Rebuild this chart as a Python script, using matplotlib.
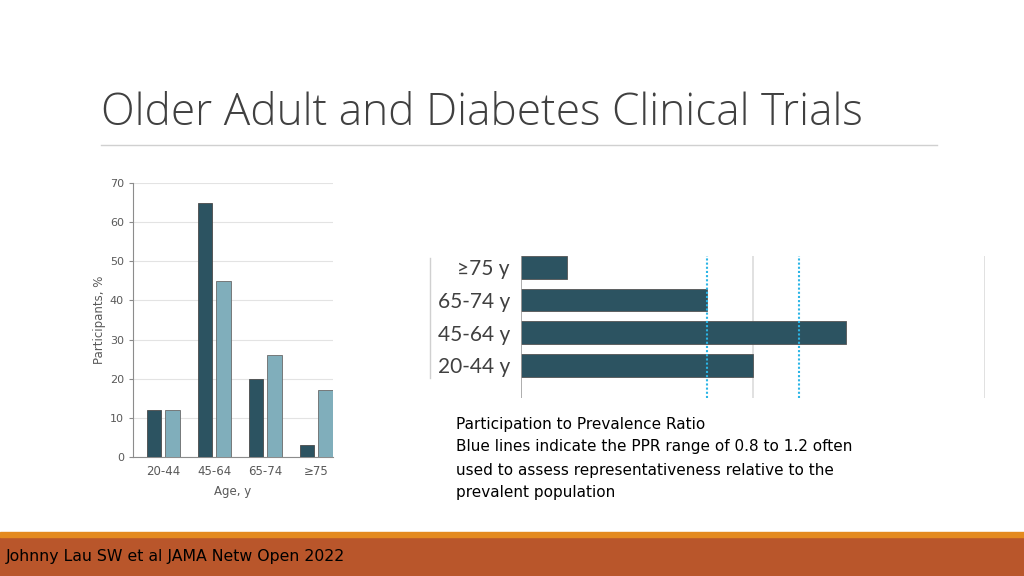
import numpy as np
import matplotlib.pyplot as plt
from matplotlib.lines import Line2D
from matplotlib.patches import Rectangle

# left chart: participants vs prevalence, %
age_groups = ['20-44', '45-64', '65-74', '≥75']
participants = [12, 65, 20, 3]
prevalent = [12, 45, 26, 17]

# right chart: participation to prevalence ratio
ppr_labels = ['20-44 y', '45-64 y', '65-74 y', '≥75 y']
ppr_values = [1.0, 1.4, 0.8, 0.2]
ppr_range = [0.8, 1.2]

dark = '#2c5361'
light = '#80aebb'
grey_text = '#595959'

fig = plt.figure(figsize=(10.24, 5.76), dpi=100)

# title and rule
fig.text(101 / 1024, 1 - 114 / 576, 'Older Adult and Diabetes Clinical Trials',
         fontsize=31.8, color='#404040', family='Open Sans', fontweight='light',
         va='center', ha='left')
fig.add_artist(Line2D([101 / 1024, 937 / 1024], [1 - 145 / 576] * 2,
                      color='#d0d0d0', lw=1))

# bottom band
fig.add_artist(Rectangle((0, 0), 1, 39 / 576, transform=fig.transFigure,
                         color='#b9562b', zorder=0))
fig.add_artist(Rectangle((0, 39 / 576), 1, 5 / 576, transform=fig.transFigure,
                         color='#e48a1f', zorder=0))
fig.text(6 / 1024, 1 - 557 / 576, 'Johnny Lau SW et al JAMA Netw Open 2022',
         fontsize=11.3, color='black', family='Liberation Sans Narrow',
         va='center', ha='left')

# ---- left bar chart
ax1 = fig.add_axes([133 / 1024, 119 / 576, 200 / 1024, 274 / 576])
x = np.arange(len(age_groups))
w = 0.29
ax1.bar(x - 0.18, participants, w, color=dark, edgecolor='#4a4a4a', lw=0.6, zorder=3)
ax1.bar(x + 0.18, prevalent, w, color=light, edgecolor='#6a6a6a', lw=0.6, zorder=3)
ax1.set_xlim(-0.59, 3.33)
ax1.set_ylim(0, 70)
ax1.set_yticks(range(0, 71, 10))
ax1.set_xticks(x)
ax1.set_xticklabels(age_groups)
ax1.grid(axis='y', color='#e3e3e3', lw=0.8, zorder=0)
for s in ['top', 'right']:
    ax1.spines[s].set_visible(False)
for s in ['left', 'bottom']:
    ax1.spines[s].set_color('#8c8c8c')
ax1.tick_params(axis='y', labelsize=8, colors=grey_text, length=3, color='#8c8c8c')
ax1.tick_params(axis='x', labelsize=8.5, colors=grey_text, length=0, pad=6)
ax1.set_ylabel('Participants, %', fontsize=8.5, color=grey_text, labelpad=3)
ax1.set_xlabel('Age, y', fontsize=8.5, color=grey_text, labelpad=5)

# ---- right PPR chart
ax2 = fig.add_axes([521 / 1024, 178 / 576, 464 / 1024, 142 / 576])
y = np.arange(len(ppr_labels))
ax2.barh(y, ppr_values, 0.7, color=dark, edgecolor='#555555', lw=0.6, zorder=3)
ax2.set_xlim(0, 2)
ax2.set_ylim(-1, 3.35)
for v in [1, 2]:
    ax2.axvline(v, color='#dcdcdc', lw=1.2, zorder=1)
for v in ppr_range:
    ax2.axvline(v, color='#2bb5e6', lw=1.5, ls=(0, (1, 1)), zorder=4)
ax2.axvline(0, color='#a0a0a0', lw=1.2, zorder=5)
for s in ax2.spines.values():
    s.set_visible(False)
ax2.set_xticks([])
ax2.set_yticks(y)
ax2.set_yticklabels(ppr_labels, family='Lato')
ax2.tick_params(axis='y', length=0, labelsize=15, labelcolor='#404040', pad=8)
fig.add_artist(Line2D([430 / 1024] * 2, [1 - 258 / 576, 1 - 378 / 576],
                      color='#d0d0d0', lw=1))

# note text
note = ['Participation to Prevalence Ratio',
        'Blue lines indicate the PPR range of 0.8 to 1.2 often',
        'used to assess representativeness relative to the',
        'prevalent population']
for i, line in enumerate(note):
    fig.text(456 / 1024, 1 - (424 + 23 * i) / 576, line, fontsize=11,
             color='black', va='center', ha='left')

fig.savefig('out.png', dpi=100)
